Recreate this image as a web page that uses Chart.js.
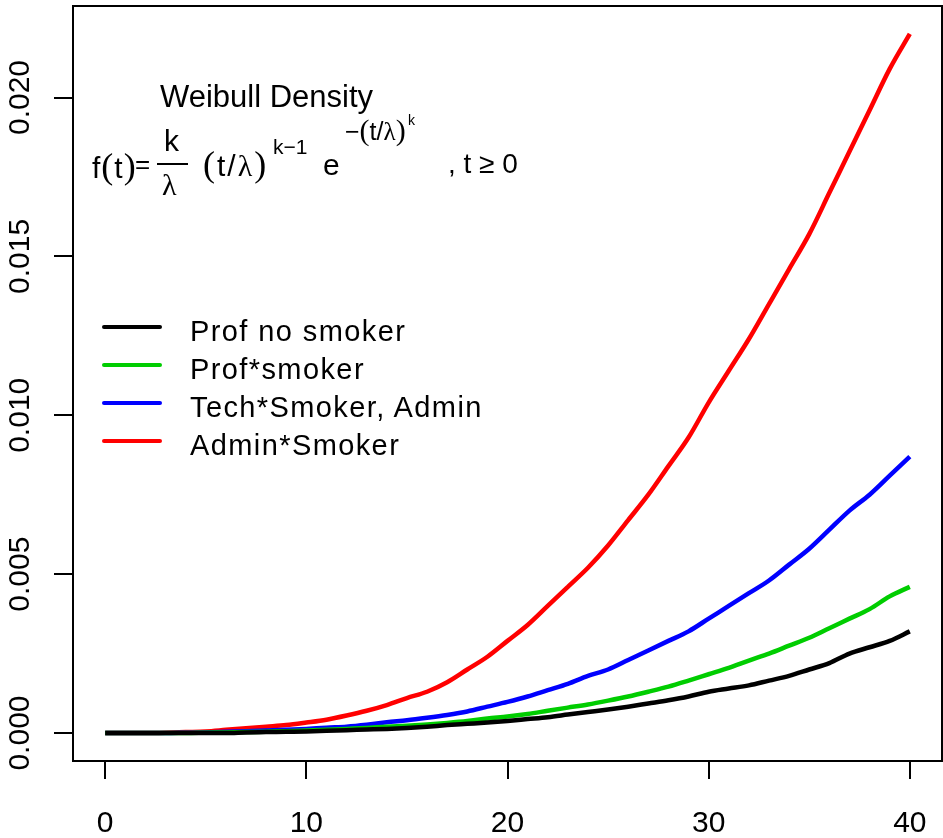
<!DOCTYPE html>
<html>
<head>
<meta charset="utf-8">
<script src="https://cdn.jsdelivr.net/npm/chart.js@4.4.1/dist/chart.umd.min.js"></script>
<style>
  html, body { margin: 0; padding: 0; background: #fff; }
  #wrap { position: relative; width: 943px; height: 838px; overflow: hidden; }
  #wrap canvas { position: absolute; left: 0; top: 0; }
  .txt { position: absolute; font-family: "Liberation Sans", Arial, sans-serif; color: #000; line-height: 1; white-space: nowrap; }
  .serif { font-family: "Liberation Serif", "Times New Roman", serif; }
  .big { font-size: 1.2em; }
  #legend .swatch { position: absolute; left: 102px; width: 60px; height: 4px; border-radius: 2px; }
  #legend .label { position: absolute; left: 190px; font-size: 29px; letter-spacing: 1.4px; }
</style>
</head>
<body>
<div id="wrap">
  <canvas id="chart" width="943" height="838"></canvas>

  <div class="txt" style="left:160px; top:81px; font-size:31px;">Weibull Density</div>

  <div id="formula">
    <div class="txt" style="left:92px; top:148px; font-size:30px; letter-spacing:1px;">f<span class="serif big">(</span>t<span class="serif big">)</span></div>
    <div class="txt" style="left:135px; top:151px; font-size:26px;">=</div>
    <div class="txt" style="left:164px; top:126px; font-size:30px;">k</div>
    <div class="txt" style="left:157px; top:163px; width:31px; height:2px; background:#000;"></div>
    <div class="txt serif" style="left:162px; top:170px; font-size:30px;">λ</div>
    <div class="txt" style="left:203px; top:146px; font-size:30px; letter-spacing:2px;"><span class="serif big">(</span>t/<span class="serif">λ</span><span class="serif big">)</span></div>
    <div class="txt" style="left:273px; top:136px; font-size:21px;">k−1</div>
    <div class="txt" style="left:323px; top:150px; font-size:30px;">e</div>
    <div class="txt" style="left:345px; top:115px; font-size:25px;">−<span class="serif big">(</span>t/<span class="serif">λ</span><span class="serif big">)</span></div>
    <div class="txt" style="left:408px; top:113px; font-size:14px;">k</div>
    <div class="txt" style="left:448px; top:150px; font-size:28px;">, t ≥ 0</div>
  </div>

  <div id="legend"></div>
</div>

<script>
// time axis (t) and the four fitted Weibull densities
const tValues = [0, 1, 2, 3, 4, 5, 6, 7, 8, 9, 10, 11, 12, 13, 14, 15, 16, 17, 18, 19, 20,
                 21, 22, 23, 24, 25, 26, 27, 28, 29, 30, 31, 32, 33, 34, 35, 36, 37, 38, 39, 40];

const seriesNames = ['Prof no smoker', 'Prof*smoker', 'Tech*Smoker, Admin', 'Admin*Smoker'];
const seriesColors = ['#000000', '#00CD00', '#0000FF', '#FF0000'];

const profNoSmoker = [0, 0, 0, 0, 0, 0, 0, 0.00002, 0.00003, 0.00004, 0.00005,
  0.00007, 0.00009, 0.00011, 0.00013, 0.00016, 0.0002, 0.00025, 0.00029, 0.00033, 0.00038,
  0.00044, 0.0005, 0.00058, 0.00066, 0.00074, 0.00083, 0.00093, 0.00103, 0.00115, 0.0013,
  0.0014, 0.0015, 0.00165, 0.0018, 0.002, 0.0022, 0.0025, 0.0027, 0.0029, 0.0032];

const profSmoker = [0, 0, 0, 0, 0, 0.00001, 0.00002, 0.00003, 0.00004, 0.00006, 0.00008,
  0.0001, 0.00013, 0.00016, 0.0002, 0.00023, 0.00027, 0.00032, 0.00038, 0.00046, 0.00052,
  0.0006, 0.0007, 0.0008, 0.0009, 0.00102, 0.00115, 0.0013, 0.00146, 0.00165, 0.00185,
  0.00205, 0.00228, 0.0025, 0.00275, 0.003, 0.0033, 0.0036, 0.0039, 0.0043, 0.0046];

const techSmokerAdmin = [0, 0, 0, 0, 0.00001, 0.00002, 0.00004, 0.00006, 0.00008, 0.0001, 0.00013,
  0.00017, 0.0002, 0.00026, 0.00034, 0.0004, 0.00048, 0.00057, 0.00068, 0.00083, 0.00098,
  0.00115, 0.00135, 0.00155, 0.0018, 0.002, 0.0023, 0.0026, 0.0029, 0.0032, 0.0036,
  0.004, 0.0044, 0.0048, 0.0053, 0.0058, 0.0064, 0.007, 0.0075, 0.0081, 0.0087];

const adminSmoker = [0, 0, 0, 0.00001, 0.00003, 0.00005, 0.0001, 0.00015, 0.0002, 0.00025, 0.00033,
  0.00042, 0.00055, 0.0007, 0.00088, 0.0011, 0.0013, 0.0016, 0.002, 0.0024, 0.0029,
  0.0034, 0.004, 0.0046, 0.0052, 0.0059, 0.0067, 0.0075, 0.0084, 0.0093, 0.0104,
  0.0114, 0.0124, 0.0135, 0.0146, 0.0157, 0.017, 0.0183, 0.0196, 0.0209, 0.022];

const xTicks = [0, 10, 20, 30, 40];
const xTickLabels = ['0', '10', '20', '30', '40'];
const yTicks = [0, 0.005, 0.01, 0.015, 0.02];
const yTickLabels = ['0.000', '0.005', '0.010', '0.015', '0.020'];

const allSeries = [profNoSmoker, profSmoker, techSmokerAdmin, adminSmoker];

// R-style box around the plot region
const boxPlugin = {
    id: 'box',
    afterDraw(chart) {
        const a = chart.chartArea;
        const ctx = chart.ctx;
        ctx.save();
        ctx.strokeStyle = '#000';
        ctx.lineWidth = 2;
        ctx.strokeRect(a.left, a.top, a.right - a.left, a.bottom - a.top);
        ctx.restore();
    }
};

const tickFont = { family: '"Liberation Sans", Arial, sans-serif', size: 30 };

new Chart(document.getElementById('chart'), {
    type: 'line',
    data: {
        datasets: allSeries.map((values, i) => ({
            label: seriesNames[i],
            data: values.map((v, j) => ({ x: tValues[j], y: v })),
            borderColor: seriesColors[i],
            backgroundColor: seriesColors[i],
            borderWidth: 4.5,
            pointRadius: 0,
            fill: false,
            cubicInterpolationMode: 'monotone'
        }))
    },
    options: {
        responsive: false,
        animation: false,
        devicePixelRatio: 1,
        layout: { padding: { top: 6, right: 1, left: 0, bottom: 0 } },
        plugins: {
            legend: { display: false },
            tooltip: { enabled: false }
        },
        scales: {
            x: {
                type: 'linear',
                min: -1.6,
                max: 41.6,
                afterBuildTicks: axis => { axis.ticks = xTicks.map(v => ({ value: v })); },
                afterFit: axis => {
                    axis.height = 77;
                    axis.paddingLeft = 0;
                    axis.paddingRight = 0;
                },
                border: { display: false },
                grid: { drawOnChartArea: false, drawTicks: true, tickLength: 18, color: '#000', lineWidth: 2 },
                ticks: {
                    color: '#000',
                    font: tickFont,
                    padding: 27,
                    maxRotation: 0,
                    autoSkip: false,
                    callback: (value, index) => xTickLabels[index]
                }
            },
            y: {
                type: 'linear',
                min: -0.00088,
                max: 0.02288,
                afterBuildTicks: axis => { axis.ticks = yTicks.map(v => ({ value: v })); },
                afterFit: axis => {
                    axis.width = 73;
                    axis.paddingTop = 0;
                    axis.paddingBottom = 0;
                },
                border: { display: false },
                grid: { drawOnChartArea: false, drawTicks: true, tickLength: 19, color: '#000', lineWidth: 2 },
                ticks: {
                    color: '#000',
                    font: tickFont,
                    padding: -4,
                    minRotation: 90,
                    maxRotation: 90,
                    crossAlign: 'center',
                    autoSkip: false,
                    callback: (value, index) => yTickLabels[index]
                }
            }
        }
    },
    plugins: [boxPlugin]
});

// legend built from the same names and colours
const legend = document.getElementById('legend');
const rowLineY = [327, 365, 403, 441];
seriesNames.forEach((name, i) => {
    const sw = document.createElement('div');
    sw.className = 'swatch';
    sw.style.top = (rowLineY[i] - 2) + 'px';
    sw.style.background = seriesColors[i];
    legend.appendChild(sw);
    const lab = document.createElement('div');
    lab.className = 'txt label';
    lab.style.top = (rowLineY[i] - 10) + 'px';
    lab.textContent = name;
    legend.appendChild(lab);
});
</script>
</body>
</html>
